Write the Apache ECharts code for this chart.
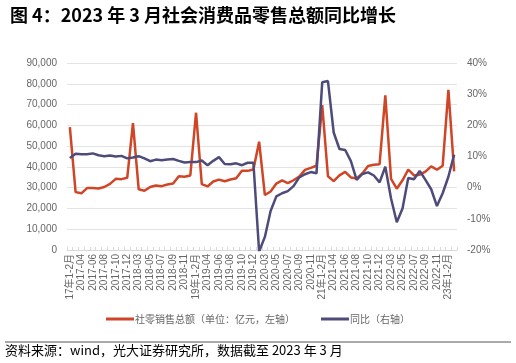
<!DOCTYPE html>
<html>
<head>
<meta charset="utf-8">
<script src="https://cdn.jsdelivr.net/npm/echarts@6/dist/echarts.min.js"></script>
<style>
html,body{margin:0;padding:0;background:#fff;}
#c{width:516px;height:363px;}
</style>
</head>
<body>
<div id="c"></div>
<script>
var categories = [
 '17年1-2月','2017-03','2017-04','2017-05','2017-06','2017-07','2017-08','2017-09','2017-10','2017-11','2017-12',
 '18年1-2月','2018-03','2018-04','2018-05','2018-06','2018-07','2018-08','2018-09','2018-10','2018-11','2018-12',
 '19年1-2月','2019-03','2019-04','2019-05','2019-06','2019-07','2019-08','2019-09','2019-10','2019-11','2019-12',
 '20年1-2月','2020-03','2020-04','2020-05','2020-06','2020-07','2020-08','2020-09','2020-10','2020-11','2020-12',
 '21年1-2月','2021-03','2021-04','2021-05','2021-06','2021-07','2021-08','2021-09','2021-10','2021-11','2021-12',
 '22年1-2月','2022-03','2022-04','2022-05','2022-06','2022-07','2022-08','2022-09','2022-10','2022-11','2022-12',
 '23年1-2月','2023-03'
];
var retailSales = [
 59086,27864,27278,29805,29808,29610,30330,31836,34240,34108,34734,
 61082,29194,28542,30359,31018,30734,31542,32005,35534,35260,35893,
 66064,31726,30586,32956,33878,33073,33896,34495,38104,38094,38777,
 52130,26450,28178,31973,33526,32203,33571,35295,38576,39514,40566,
 69737,35484,33153,35945,37586,34925,34395,36833,40454,41043,41269,
 74426,34233,29483,33547,38742,35870,36258,37745,40271,38615,40542,
 77067,37855
];
var yoy = [
 9.5,10.9,10.7,10.7,11.0,10.4,10.1,10.3,10.0,10.2,9.4,
 9.7,10.1,9.4,8.5,9.0,8.8,9.0,9.2,8.6,8.1,8.2,
 8.2,8.7,7.2,8.6,9.8,7.6,7.5,7.8,7.2,8.0,8.0,
 -20.5,-15.8,-7.5,-2.8,-1.8,-1.1,0.5,3.3,4.3,5.0,4.6,
 33.8,34.2,17.7,12.4,12.1,8.5,2.5,4.4,4.9,3.9,1.7,
 6.7,-3.5,-11.1,-6.7,3.1,2.7,5.4,2.5,-0.5,-5.9,-1.8,
 3.5,10.6
];
var leftTicks = {min:0, max:90000, interval:10000};
var rightTicks = {min:-20, max:40, interval:10};
var titleText = '图 4：2023 年 3 月社会消费品零售总额同比增长';
var sourceText = '资料来源：wind，光大证券研究所，数据截至 2023 年 3 月';
var seriesNames = ['社零销售总额（单位：亿元，左轴）','同比（右轴）'];

var FONT = '"Liberation Sans","Noto Sans CJK SC",sans-serif';
var chart = echarts.init(document.getElementById('c'), null, {renderer:'canvas'});
chart.setOption({
  animation:false,
  backgroundColor:'#fff',
  title:{
    text:titleText, left:5, top:1,
    textStyle:{fontSize:18, fontWeight:'bold', color:'#000', fontFamily:'"Noto Sans CJK SC",sans-serif'}
  },
  grid:{left:67, right:59, top:63, bottom:113},
  legend:{
    bottom:34, left:'center',
    itemWidth:28, itemHeight:3, itemGap:26,
    icon:'rect',
    textStyle:{fontSize:10, color:'#666', fontFamily:'"Noto Sans CJK SC",sans-serif', padding:[0,0,0,-4]},
    data:seriesNames
  },
  xAxis:{
    type:'category', data:categories, boundaryGap:true,
    axisLine:{lineStyle:{color:'#d9d9d9', width:1}},
    axisTick:{show:true, inside:true, length:3, interval:0, lineStyle:{color:'#d9d9d9'}},
    axisLabel:{rotate:90, interval:1, fontSize:10, color:'#666', fontFamily:FONT, margin:4}
  },
  yAxis:[
    {type:'value', min:leftTicks.min, max:leftTicks.max, interval:leftTicks.interval, position:'left',
     axisLine:{show:false}, axisTick:{show:false},
     splitLine:{lineStyle:{color:'#e3e3e3', width:1}},
     axisLabel:{fontSize:10, color:'#666', fontFamily:FONT, margin:10,
       formatter:function(v){return v.toLocaleString('en-US');}}},
    {type:'value', min:rightTicks.min, max:rightTicks.max, interval:rightTicks.interval, position:'right',
     axisLine:{show:false}, axisTick:{show:false}, splitLine:{show:false},
     axisLabel:{fontSize:10, color:'#666', fontFamily:FONT, margin:10,
       formatter:function(v){return v+'%';}}}
  ],
  series:[
    {name:seriesNames[0], type:'line', data:retailSales, yAxisIndex:0, symbol:'none',
     lineStyle:{color:'#CF4526', width:2.5}, itemStyle:{color:'#CF4526'}},
    {name:seriesNames[1], type:'line', data:yoy, yAxisIndex:1, symbol:'none',
     lineStyle:{color:'#4D4B7A', width:2.5}, itemStyle:{color:'#4D4B7A'}}
  ],
  graphic:[
    {type:'line', shape:{x1:5, y1:342, x2:511, y2:342}, style:{stroke:'#555', lineWidth:1}},
    {type:'text', left:5, top:344, style:{text:sourceText, fontSize:13, fill:'#000', fontFamily:'"Noto Sans CJK SC",sans-serif'}}
  ]
});
</script>
</body>
</html>
